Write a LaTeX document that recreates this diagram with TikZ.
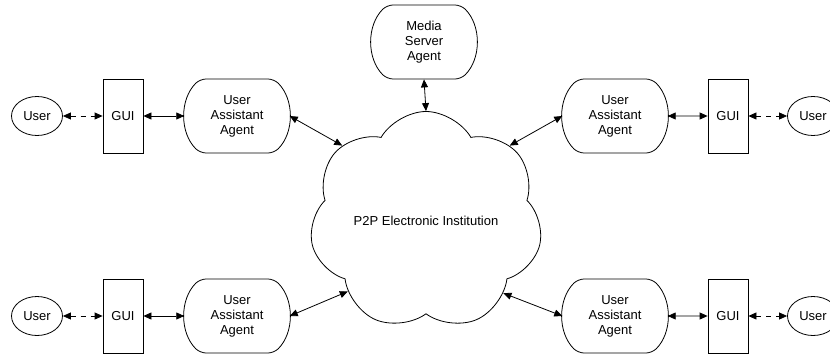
\documentclass[tikz,border=0pt]{standalone}
\usepackage{fontspec}
\setmainfont{Liberation Sans}
\usetikzlibrary{shapes.geometric,shapes.misc,shapes.symbols,arrows.meta}
\begin{document}
\begin{tikzpicture}[x=1pt,y=-1pt,line width=0.8pt,
  font=\fontsize{13}{15}\selectfont,
  user/.style={draw,ellipse,minimum width=51pt,minimum height=39pt,inner sep=0pt},
  gui/.style={draw,rectangle,minimum width=40pt,minimum height=74pt,inner sep=0pt},
  agent/.style={draw,rounded rectangle,rounded rectangle arc length=90,rounded corners=6pt,
    minimum width=103pt,minimum height=74pt,inner sep=0pt,align=center},
  link/.style={{Triangle[length=8pt,width=7pt]}-{Triangle[length=8pt,width=7pt]}},
  dlink/.style={link,dash pattern=on 5pt off 5pt}]
\useasboundingbox (0,0) rectangle (830,356);
\node[cloud,draw,cloud puffs=7,cloud puff arc=120,cloud ignores aspect,
  minimum width=233pt,minimum height=219pt,inner sep=0pt] (pei) at (426,221) {P2P Electronic Institution};
\node[agent] (msa) at (424,42) {Media\\Server\\Agent};
\node[user] (u1) at (37,116) {User};
\node[gui] (g1) at (123,116) {GUI};
\node[agent] (a1) at (237,116) {User\\Assistant\\Agent};
\node[agent] (a2) at (615,116) {User\\Assistant\\Agent};
\node[gui] (g2) at (728,116) {GUI};
\node[user] (u2) at (813,116) {User};
\node[user] (u3) at (37,316) {User};
\node[gui] (g3) at (123,316) {GUI};
\node[agent] (a3) at (237,316) {User\\Assistant\\Agent};
\node[agent] (a4) at (615,316) {User\\Assistant\\Agent};
\node[gui] (g4) at (728,316) {GUI};
\node[user] (u4) at (813,316) {User};
\draw[dlink] (u1) -- (g1);
\draw[link] (g1) -- (a1);
\draw[link] (a1.east) -- (pei.138);
\draw[link] (pei.42) -- (a2.west);
\draw[link] (a2) -- (g2);
\draw[dlink] (g2) -- (u2);
\draw[dlink] (u3) -- (g3);
\draw[link] (g3) -- (a3);
\draw[link] (a3.east) -- (pei.222);
\draw[link] (pei.317) -- (a4.west);
\draw[link] (a4) -- (g4);
\draw[dlink] (g4) -- (u4);
\draw[link] (msa.south) -- (pei.north);
\end{tikzpicture}
\end{document}
